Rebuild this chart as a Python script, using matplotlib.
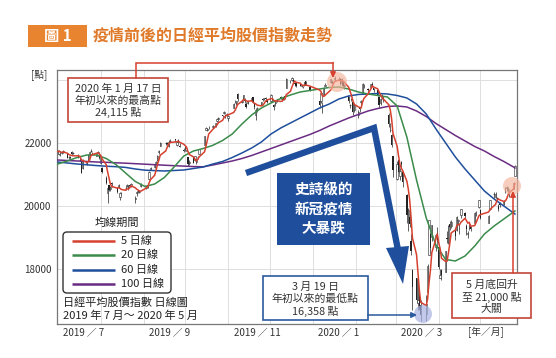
import matplotlib
matplotlib.use('Agg')
import matplotlib.pyplot as plt
import matplotlib.dates as mdates
import matplotlib.transforms as mtransforms
from matplotlib.patches import Rectangle, FancyBboxPatch, Circle, Polygon
import numpy as np
import pandas as pd

plt.rcParams['font.family'] = ['Noto Sans CJK TC', 'DejaVu Sans']

# ---------------- data ----------------
holidays = ['2019-07-15', '2019-08-12', '2019-09-16', '2019-09-23', '2019-10-14',
            '2019-10-22', '2019-11-04', '2019-12-31', '2020-01-01', '2020-01-02',
            '2020-01-03', '2020-01-13', '2020-02-11', '2020-02-24', '2020-03-20',
            '2020-04-29', '2020-05-04', '2020-05-05', '2020-05-06']

opens = [
    21680, 21640, 21660, 21690, 21720, 21650, 21540, 21560, 21700, 21670, 21610, 21450, 21420, 21200, 21360, 21440, 21630, 21740, 21650, 21600, 21620, 21600,
    21360, 21210, 20900, 20400, 20660, 20530, 20720, 20560, 20600, 20300, 20420, 20560, 20620, 20600, 20680, 20620, 20210, 20400, 20470, 20450, 20620,
    20640, 20560, 20680, 20850, 21150, 21240, 21380, 21450, 21700, 21920, 21990, 22010, 21890, 22070, 22120, 21950, 22100, 21920, 21790,
    21830, 21760, 21560, 21380, 21530, 21460, 21390, 21540, 21660, 21950, 22420, 22420, 22500, 22500, 22580, 22700, 22760, 22880, 22950, 22890, 22920,
    22800, 23120, 23310, 23260, 23550, 23310, 23420, 23400, 23250, 23270, 23380, 23450, 23240, 22880, 23100, 23230, 23410, 23420, 23430, 23350,
    23330, 23420, 23200, 23270, 23330, 23450, 23390, 23420, 23480, 23750, 23970, 24000, 24000, 23890, 23900, 23910, 23800, 23790, 23830, 23960, 23780,
    23320, 23320, 23200, 23530, 23810, 23930, 23930, 23940, 24040, 24100, 24030, 23900, 23940, 23820, 23500, 23200, 23380, 23300, 23050,
    22890, 23100, 23290, 23550, 23850, 23710, 23780, 23880, 23740, 23670, 23470, 23280, 23460, 23440, 22880, 22420, 22250, 21580,
    20850, 21460, 20960, 21400, 21090, 20350, 19560, 19640, 18900, 17980, 17700, 16910, 17230, 16850, 16570, 17280, 18450, 19100, 19020, 18700, 19150,
    18700, 17730, 17980, 17900, 18970, 18850, 19430, 19360, 19200, 19250, 19530, 19300, 19720, 19780, 19380, 19100, 19300, 19340, 19470, 19790, 19980,
    19880, 19470, 19900, 20380, 20290, 20250, 20010, 20100, 20050, 20480, 20560, 20500, 20460, 20550, 20950]
highs = [
    21784, 21770, 21700, 21730, 21770, 21660, 21600, 21590, 21730, 21710, 21660, 21520, 21440, 21480, 21420, 21640, 21720, 21820, 21700, 21660, 21740, 21640,
    21600, 21240, 20940, 20600, 20680, 20640, 20760, 20590, 20690, 20440, 20460, 20620, 20700, 20680, 20690, 20740, 20330, 20480, 20520, 20510, 20720,
    20660, 20650, 20690, 21110, 21250, 21330, 21420, 21620, 21780, 22020, 22040, 22040, 22080, 22120, 22130, 22060, 22130, 22000, 21840,
    21900, 21840, 21570, 21470, 21580, 21600, 21500, 21580, 21820, 22220, 22500, 22480, 22540, 22580, 22640, 22780, 22810, 22900, 23010, 22920, 22960,
    22880, 23270, 23360, 23340, 23590, 23370, 23530, 23420, 23290, 23320, 23420, 23470, 23250, 23100, 23130, 23310, 23430, 23440, 23450, 23360,
    23540, 23450, 23230, 23320, 23400, 23490, 23430, 23440, 23510, 24050, 24000, 24090, 24050, 23920, 23920, 23920, 23850, 23810, 23930, 23970, 23780,
    23360, 23580, 23300, 23770, 23900, 24030, 23990, 23950, 24115, 24110, 24060, 24050, 23960, 23870, 23500, 23250, 23430, 23300, 23270,
    23040, 23140, 23350, 23900, 23880, 23760, 23880, 23930, 23760, 23680, 23500, 23430, 23560, 23470, 22950, 22620, 22290, 21600,
    21440, 21470, 21210, 21440, 21100, 20380, 19950, 19800, 19100, 18000, 17710, 17560, 17370, 17010, 17160, 18170, 19570, 19150, 19390, 19100, 19340,
    18750, 18010, 18000, 18580, 19200, 19400, 19520, 19540, 19260, 19690, 19580, 19440, 19920, 19800, 19420, 19200, 19430, 19360, 19800, 19840, 20200,
    19900, 19720, 20180, 20450, 20440, 20300, 20050, 20130, 20190, 20600, 20620, 20590, 20470, 20760, 21300]
lows = [
    21646, 21620, 21580, 21660, 21700, 21510, 21500, 21500, 21610, 21640, 21520, 21440, 21040, 21180, 21300, 21420, 21600, 21700, 21620, 21580, 21600, 21480,
    21340, 21050, 20700, 20110, 20480, 20490, 20600, 20400, 20580, 20190, 20350, 20520, 20590, 20520, 20590, 20600, 20110, 20330, 20420, 20410, 20600,
    20590, 20530, 20560, 20840, 21130, 21200, 21290, 21440, 21640, 21900, 21940, 21940, 21870, 22030, 22040, 21900, 22000, 21860, 21700,
    21760, 21740, 21280, 21310, 21360, 21440, 21320, 21480, 21640, 21940, 22400, 22380, 22440, 22470, 22520, 22680, 22720, 22830, 22910, 22800, 22860,
    22700, 23100, 23260, 23200, 23320, 23280, 23380, 23280, 23120, 23230, 23300, 23280, 23090, 22730, 22970, 23210, 23320, 23360, 23360, 23260,
    23300, 23320, 23040, 23170, 23310, 23400, 23370, 23360, 23390, 23740, 23900, 23960, 23930, 23820, 23770, 23810, 23780, 23760, 23810, 23830, 23650,
    23120, 23280, 22950, 23520, 23800, 23910, 23870, 23860, 23980, 23990, 23840, 23870, 23760, 23700, 23270, 23110, 23320, 22890, 22970,
    22780, 22990, 23200, 23540, 23750, 23620, 23760, 23780, 23620, 23500, 23110, 23220, 23400, 23290, 22520, 22360, 21880, 20920,
    20840, 21050, 20830, 21200, 20610, 19470, 19200, 19320, 18460, 16690, 16920, 16690, 16700, 16358, 16360, 17260, 18450, 18500, 18880, 18580, 18860,
    17990, 17710, 17650, 17890, 18820, 18780, 19250, 19290, 18930, 19200, 19410, 19120, 19610, 19580, 19070, 18980, 19240, 19200, 19460, 19690, 19930,
    19600, 19450, 19880, 20250, 20250, 20150, 19840, 19960, 20020, 20410, 20480, 20450, 20300, 20530, 20940]
closes = [
    21730, 21754, 21638, 21702, 21746, 21534, 21565, 21533, 21644, 21686, 21535, 21469, 21046, 21467, 21417, 21621, 21710, 21757, 21658, 21617, 21709, 21522,
    21541, 21087, 20720, 20585, 20517, 20593, 20685, 20455, 20655, 20406, 20419, 20563, 20677, 20619, 20628, 20711, 20261, 20456, 20479, 20461, 20704,
    20620, 20625, 20649, 21086, 21200, 21318, 21392, 21598, 21760, 21988, 22001, 21961, 22044, 22079, 22099, 22020, 22048, 21879, 21756,
    21885, 21779, 21342, 21410, 21375, 21588, 21456, 21552, 21799, 22207, 22473, 22452, 22493, 22549, 22625, 22751, 22800, 22867, 22974, 22843, 22927,
    22851, 23252, 23304, 23330, 23392, 23332, 23520, 23320, 23142, 23303, 23417, 23293, 23149, 23039, 23113, 23293, 23373, 23438, 23409, 23294,
    23530, 23380, 23135, 23300, 23354, 23431, 23410, 23392, 23425, 24023, 23952, 24066, 23934, 23865, 23817, 23821, 23831, 23783, 23925, 23838, 23657,
    23205, 23576, 23205, 23740, 23851, 24025, 23917, 23933, 24041, 24084, 23865, 24031, 23795, 23827, 23344, 23216, 23379, 22978, 23205,
    22972, 23085, 23320, 23874, 23828, 23686, 23861, 23828, 23688, 23523, 23194, 23401, 23479, 23387, 22605, 22426, 21948, 21143,
    21344, 21083, 21100, 21329, 20750, 19699, 19867, 19416, 18560, 17431, 17002, 17012, 16727, 16553, 16888, 18092, 19547, 18665, 19389, 19085, 18917,
    18065, 17819, 17820, 18576, 18950, 19353, 19346, 19499, 19043, 19639, 19550, 19290, 19897, 19669, 19281, 19138, 19429, 19262, 19783, 19771, 20194,
    19619, 19675, 20179, 20391, 20366, 20267, 19915, 20037, 20134, 20433, 20595, 20552, 20388, 20742, 21271]

# longer moving averages (weekly samples)
ma_dates = list(pd.date_range('2019-07-01', periods=48, freq='7D')) + [pd.Timestamp('2020-05-26')]
ma20 = [21333, 21429, 21540, 21619, 21619, 21508, 21317, 21048, 20778, 20619, 20698, 20905, 21238, 21587, 21746, 21825,
        21927, 22079, 22286, 22603, 22889, 23111, 23270, 23413, 23524, 23619, 23667, 23714, 23762, 23778, 23714, 23619,
        23556, 23508, 23460, 23175, 22190, 20825, 19619, 18762, 18302, 18254, 18413, 18730, 19111, 19365, 19587, 19810, 19841]
ma60 = [21397, 21365, 21333, 21308, 21283, 21263, 21248, 21225, 21175, 21137, 21124, 21111, 21127, 21143, 21190, 21238,
        21333, 21413, 21540, 21683, 21841, 22032, 22286, 22476, 22635, 22794, 22952, 23111, 23238, 23397, 23492, 23540,
        23556, 23571, 23556, 23508, 23429, 23238, 22921, 22444, 22000, 21556, 21175, 20825, 20476, 20222, 20000, 19778, 19746]
ma100 = [21460, 21444, 21429, 21413, 21397, 21387, 21371, 21359, 21343, 21327, 21311, 21295, 21279, 21267, 21251, 21244,
         21302, 21365, 21429, 21508, 21603, 21714, 21825, 21937, 22048, 22159, 22270, 22397, 22540, 22667, 22794, 22905,
         23016, 23095, 23159, 23175, 23143, 23016, 22841, 22619, 22429, 22238, 22063, 21889, 21746, 21571, 21413, 21238, 21206]

y_ticks = [18000, 20000, 22000, 24000]
y_tick_labels = ['18000', '20000', '22000', '']
month_lines = ['2019-08-01', '2019-09-01', '2019-10-01', '2019-11-01', '2019-12-01',
               '2020-01-01', '2020-02-01', '2020-03-01', '2020-04-01', '2020-05-01']
x_label_dates = ['2019-07-01', '2019-09-01', '2019-11-01', '2020-01-01', '2020-03-01']
x_labels = ['2019 ／ 7', '2019 ／ 9', '2019 ／ 11', '2020 ／ 1', '2020 ／ 3']
legend_labels = ['5 日線', '20 日線', '60 日線', '100 日線']

# ---------------- styling ----------------
C_RED = '#D6402E'
C_GREEN = '#3B8B4B'
C_BLUE = '#1F4F9C'
C_PURPLE = '#6A2C82'
C_BOX_RED = '#C4453A'
C_BOX_BLUE = '#2B5A9E'
C_ORANGE = '#E8832F'

W, H = 556, 358
fig = plt.figure(figsize=(W / 100, H / 100), dpi=100)
ax = fig.add_axes([57 / W, (H - 324) / H, 460 / W, 254 / H])

dates = pd.bdate_range('2019-07-01', '2020-05-26', freq='C', holidays=holidays)
assert len(dates) == len(closes) == len(opens) == len(highs) == len(lows)
x = mdates.date2num(dates)
o = np.array(opens, float)
h = np.array(highs, float)
l = np.array(lows, float)
c = np.array(closes, float)
up = c >= o

ax.vlines(x, l, h, color='#222222', lw=0.5, zorder=2)
ax.bar(x[up], np.maximum(c - o, 8)[up], bottom=o[up], width=0.95,
       facecolor='white', edgecolor='#222222', lw=0.4, zorder=2.5)
ax.bar(x[~up], (o - c)[~up], bottom=c[~up], width=0.95,
       color='#222222', lw=0, zorder=2.5)

ma5 = pd.Series(c).rolling(5, min_periods=1).mean()
mx = mdates.date2num(ma_dates)
ax.plot(mx, ma100, color=C_PURPLE, lw=1.1, zorder=3)
ax.plot(mx, ma60, color=C_BLUE, lw=1.1, zorder=3)
ax.plot(mx, ma20, color=C_GREEN, lw=1.1, zorder=3.1)
ax.plot(x, ma5, color=C_RED, lw=1.1, zorder=3.2)

ax.set_xlim(mdates.date2num(pd.Timestamp('2019-06-30 12:00')),
            mdates.date2num(pd.Timestamp('2020-05-27 12:00')))
ax.set_ylim(16254, 24317)
ax.set_yticks(y_ticks)
ax.set_yticklabels(y_tick_labels)
ax.set_xticks(mdates.date2num(pd.to_datetime(month_lines)))
ax.set_xticklabels([])
ax.tick_params(axis='both', length=0)
ax.tick_params(axis='y', pad=4, labelsize=7, labelcolor='#333333')
ax.grid(True, color='#dedede', lw=0.7, zorder=0)
ax.set_axisbelow(True)
for s in ax.spines.values():
    s.set_color('#777777')
    s.set_linewidth(0.9)

trans = mtransforms.blended_transform_factory(ax.transData, ax.transAxes)
for d, lab in zip(x_label_dates, x_labels):
    ax.text(mdates.date2num(pd.Timestamp(d)) + 4, -0.035, lab, transform=trans,
            ha='left', va='center', fontsize=7, color='#333333')
ax.text(mdates.date2num(pd.Timestamp('2020-04-22')), -0.035, '[年／月]', transform=trans,
        ha='left', va='center', fontsize=7, color='#333333')

# ---------------- overlay (pixel coordinates) ----------------
ov = fig.add_axes([0, 0, 1, 1], zorder=5)
ov.set_xlim(0, W)
ov.set_ylim(H, 0)
ov.axis('off')
ov.patch.set_alpha(0)

# title
ov.add_patch(Rectangle((28, 25), 59, 22, fc=C_ORANGE, ec='none'))
ov.text(57.5, 36, '圖 1', color='white', fontsize=11, ha='center', va='center', weight='bold')
ov.text(93, 36, '疫情前後的日經平均股價指數走勢', color='#E07A2B', fontsize=11.5,
        ha='left', va='center', weight='bold')

ov.text(39, 75, '[點]', fontsize=7, ha='center', va='center', color='#333333')

# peak annotation
ov.add_patch(Circle((337, 82), 10, fc='#F4B29A', ec='none', alpha=0.65))
ov.plot([136, 136, 333], [78, 63, 63], color=C_RED, lw=1.1, solid_joinstyle='miter')
ov.annotate('', xy=(333, 78), xytext=(333, 62.5),
            arrowprops=dict(arrowstyle='-|>', color=C_RED, lw=1.1, mutation_scale=8, shrinkA=0, shrinkB=0))
ov.add_patch(Rectangle((68, 78), 100, 44, fc='white', ec=C_BOX_RED, lw=1.2))
for yy, t in zip([89, 100.5, 112], ['2020 年 1 月 17 日', '年初以來的最高點', '24,115 點']):
    ov.text(118, yy, t, fontsize=7.8, ha='center', va='center', color='#333333')

# big blue arrow
ov.plot([246, 374, 398], [173, 128, 250], color=C_BLUE, lw=4.6,
        solid_joinstyle='miter', solid_capstyle='butt')
ov.add_patch(Polygon([(386, 248), (409, 246), (403, 284)], closed=True, fc=C_BLUE, ec='none'))

# blue text box
ov.add_patch(Rectangle((277, 173), 93, 72, fc=C_BLUE, ec='none'))
for yy, t in zip([190, 209, 228], ['史詩級的', '新冠疫情', '大暴跌']):
    ov.text(323.5, yy, t, fontsize=10.5, ha='center', va='center', color='white', weight='bold')

# low annotation
ov.add_patch(Circle((423, 314), 9, fc='#A9B3E3', ec='none', alpha=0.7))
ov.annotate('', xy=(417, 315), xytext=(368, 315),
            arrowprops=dict(arrowstyle='-|>', color=C_BOX_BLUE, lw=1.1, mutation_scale=8, shrinkA=0, shrinkB=0))
ov.add_patch(Rectangle((263, 276), 105, 44, fc='white', ec=C_BOX_BLUE, lw=1.2))
for yy, t in zip([287, 299, 311], ['3 月 19 日', '年初以來的最低點', '16,358 點']):
    ov.text(315.5, yy, t, fontsize=7.8, ha='center', va='center', color='#333333')

# recovery annotation
ov.add_patch(Circle((512, 186), 9, fc='#F4B29A', ec='none', alpha=0.65))
ov.annotate('', xy=(513, 191), xytext=(513, 273),
            arrowprops=dict(arrowstyle='-|>', color=C_RED, lw=1.1, mutation_scale=8, shrinkA=0, shrinkB=0))
ov.add_patch(Rectangle((452, 273), 79, 45, fc='white', ec=C_BOX_RED, lw=1.2))
for yy, t in zip([285, 297, 309], ['5 月底回升', '至 21,000 點', '大關']):
    ov.text(491.5, yy, t, fontsize=7.8, ha='center', va='center', color='#333333')

# legend
ov.text(117, 223, '均線期間', fontsize=8, ha='center', va='center', color='#222222')
ov.add_patch(FancyBboxPatch((63, 232), 108, 61, boxstyle='round,pad=0,rounding_size=4',
                            fc='white', ec='#333333', lw=1))
for yy, col, lab in zip([241, 255, 270, 284], [C_RED, C_GREEN, C_BLUE, C_PURPLE], legend_labels):
    ov.plot([72, 115], [yy, yy], color=col, lw=1.8, solid_capstyle='butt')
    ov.text(121, yy, lab, fontsize=8, ha='left', va='center', color='#222222')

ov.text(63, 303, '日經平均股價指數 日線圖', fontsize=8, ha='left', va='center', color='#222222')
ov.text(63, 316, '2019 年 7 月～ 2020 年 5 月', fontsize=8, ha='left', va='center', color='#222222')

fig.savefig('out.png', dpi=100)
